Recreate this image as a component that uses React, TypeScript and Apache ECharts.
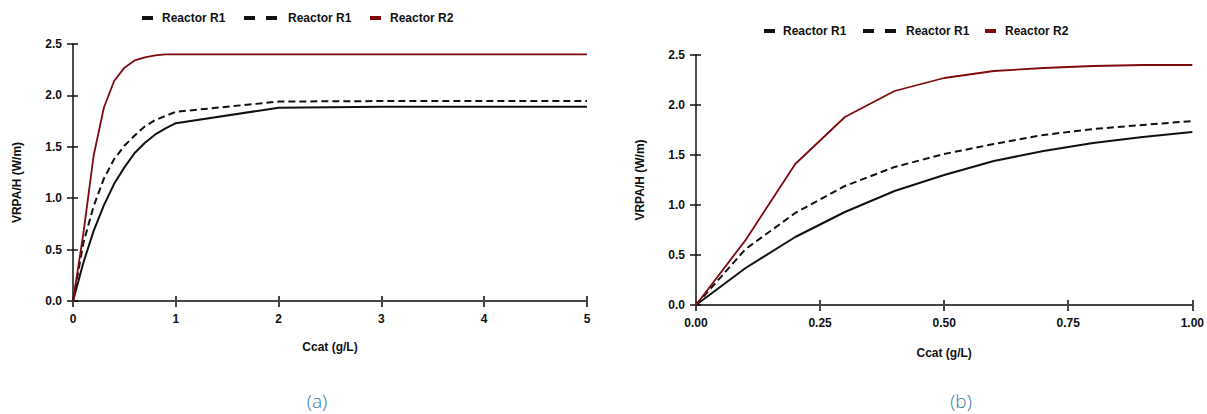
import React, { useEffect, useRef } from "react";
import * as echarts from "echarts";

// ---- data ----
const xA = [0, 0.1, 0.2, 0.3, 0.4, 0.5, 0.6, 0.7, 0.8, 0.9, 1, 2, 3, 4, 5];
const r1SolidA = [0, 0.37, 0.68, 0.93, 1.14, 1.3, 1.44, 1.54, 1.62, 1.68, 1.73, 1.88, 1.89, 1.89, 1.89];
const r1DashedA = [0, 0.56, 0.92, 1.19, 1.38, 1.51, 1.61, 1.7, 1.76, 1.8, 1.84, 1.94, 1.945, 1.945, 1.945];
const r2A = [0, 0.65, 1.41, 1.88, 2.14, 2.27, 2.34, 2.37, 2.39, 2.4, 2.4, 2.4, 2.4, 2.4, 2.4];

const xB = [0, 0.1, 0.2, 0.3, 0.4, 0.5, 0.6, 0.7, 0.8, 0.9, 1];
const r1SolidB = [0, 0.37, 0.68, 0.93, 1.14, 1.3, 1.44, 1.54, 1.62, 1.68, 1.73];
const r1DashedB = [0, 0.56, 0.92, 1.19, 1.38, 1.51, 1.61, 1.7, 1.76, 1.8, 1.84];
const r2B = [0, 0.65, 1.41, 1.88, 2.14, 2.27, 2.34, 2.37, 2.39, 2.4, 2.4];

const legendNames = ["Reactor R1", "Reactor R1", "Reactor R2"];
const panelLabels = ["(a)", "(b)"];
const xAxisA = { min: 0, max: 5, interval: 1 };
const xAxisB = { min: 0, max: 1, interval: 0.25 };
const yAxisRange = { min: 0, max: 2.5, interval: 0.5 };
const xName = "Ccat (g/L)";
const yName = "VRPA/H (W/m)";

const FONT = "'Liberation Sans', Arial, sans-serif";
const RED = "#7d0a0c";
const BLACK = "#111111";

const pairs = (xs: number[], ys: number[]) => xs.map((x, i) => [x, ys[i]]);

function makeAxes(gridIndex: number, range: any, isX: boolean, fmt: (v: number) => string, nameGap: number, namePadding?: number[]) {
  const lineColor = isX ? "#454545" : "#111";
  const lineWidth = isX ? 2 : 1.5;
  const main: any = {
    gridIndex,
    type: "value",
    ...range,
    position: isX ? "bottom" : "left",
    axisLine: { show: true, onZero: false, lineStyle: { color: lineColor, width: lineWidth } },
    axisTick: { show: true, inside: false, length: 6, lineStyle: { color: lineColor, width: lineWidth } },
    axisLabel: {
      margin: isX ? 12 : 11,
      fontFamily: FONT,
      fontWeight: "bold",
      fontSize: 12,
      color: BLACK,
      formatter: fmt,
    },
    splitLine: { show: false },
    name: isX ? xName : yName,
    nameLocation: "middle",
    nameGap,
    nameTextStyle: { fontFamily: FONT, fontWeight: "bold", fontSize: 12, color: BLACK, padding: namePadding },
  };
  const inner: any = {
    gridIndex,
    type: "value",
    ...range,
    position: isX ? "bottom" : "left",
    axisLine: { show: false, onZero: false },
    axisTick: { show: true, inside: true, length: 5, lineStyle: { color: lineColor, width: lineWidth } },
    axisLabel: { show: false },
    splitLine: { show: false },
  };
  return [main, inner];
}

function seriesFor(xi: number, yi: number, xs: number[], solid: number[], dashed: number[], red: number[]) {
  return [
    {
      type: "line",
      name: legendNames[0],
      xAxisIndex: xi,
      yAxisIndex: yi,
      data: pairs(xs, solid),
      symbol: "none",
      lineStyle: { color: BLACK, width: 2 },
      z: 3,
    },
    {
      type: "line",
      name: legendNames[1] + " ",
      xAxisIndex: xi,
      yAxisIndex: yi,
      data: pairs(xs, dashed),
      symbol: "none",
      lineStyle: { color: BLACK, width: 2, type: [7, 4] },
      z: 3,
    },
    {
      type: "line",
      name: legendNames[2],
      xAxisIndex: xi,
      yAxisIndex: yi,
      data: pairs(xs, red),
      symbol: "none",
      lineStyle: { color: RED, width: 1.8 },
      z: 4,
    },
  ];
}

function legendGraphic(iconX: number[], textX: number[], y: number) {
  const items: any[] = [];
  const icon = (x: number, color: string) => ({
    type: "rect",
    shape: { x, y: y - 2, width: 11, height: 4 },
    style: { fill: color },
  });
  items.push(icon(iconX[0], BLACK));
  items.push(icon(iconX[1], BLACK));
  items.push(icon(iconX[1] + 22, BLACK));
  items.push(icon(iconX[2], RED));
  legendNames.forEach((n, i) => {
    items.push({
      type: "text",
      x: textX[i],
      y,
      style: { text: n, fontFamily: FONT, fontWeight: "bold", fontSize: 12, fill: BLACK, verticalAlign: "middle", align: "left" },
    });
  });
  return items;
}

export default function App() {
  const ref = useRef<HTMLDivElement>(null);
  useEffect(() => {
    if (!ref.current) return;
    const chart = echarts.init(ref.current, undefined, { renderer: "svg" });
    const [xa0, xa1] = makeAxes(0, xAxisA, true, (v) => String(v), 40);
    const [xb0, xb1] = makeAxes(1, xAxisB, true, (v) => v.toFixed(2), 42);
    const [ya0, ya1] = makeAxes(0, yAxisRange, false, (v) => v.toFixed(1), 50, [0, 20, 0, 0]);
    const [yb0, yb1] = makeAxes(1, yAxisRange, false, (v) => v.toFixed(1), 50);
    chart.setOption({
      animation: false,
      backgroundColor: "#ffffff",
      grid: [
        { left: 73, top: 44, width: 514, height: 257, containLabel: false },
        { left: 696, top: 55, width: 500, height: 250, containLabel: false },
      ],
      xAxis: [xa0, xa1, xb0, xb1],
      yAxis: [ya0, ya1, yb0, yb1],
      series: [
        ...seriesFor(0, 0, xA, r1SolidA, r1DashedA, r2A),
        ...seriesFor(2, 2, xB, r1SolidB, r1DashedB, r2B),
      ],
      graphic: [
        ...legendGraphic([142, 244, 370], [162, 288, 390], 18),
        ...legendGraphic([764, 863, 985], [783, 906, 1005], 31),
        {
          type: "text",
          x: 317,
          y: 401,
          style: { text: panelLabels[0], fontFamily: "'Open Sans', sans-serif", fontWeight: 300, fontSize: 19, fill: "#3a78ad", align: "center", verticalAlign: "middle" },
        },
        {
          type: "text",
          x: 961,
          y: 401,
          style: { text: panelLabels[1], fontFamily: "'Open Sans', sans-serif", fontWeight: 300, fontSize: 19, fill: "#3a78ad", align: "center", verticalAlign: "middle" },
        },
      ],
    });
    return () => chart.dispose();
  }, []);
  return <div ref={ref} style={{ position: "fixed", left: 0, top: 0, width: 1207, height: 414, background: "#fff" }} />;
}
